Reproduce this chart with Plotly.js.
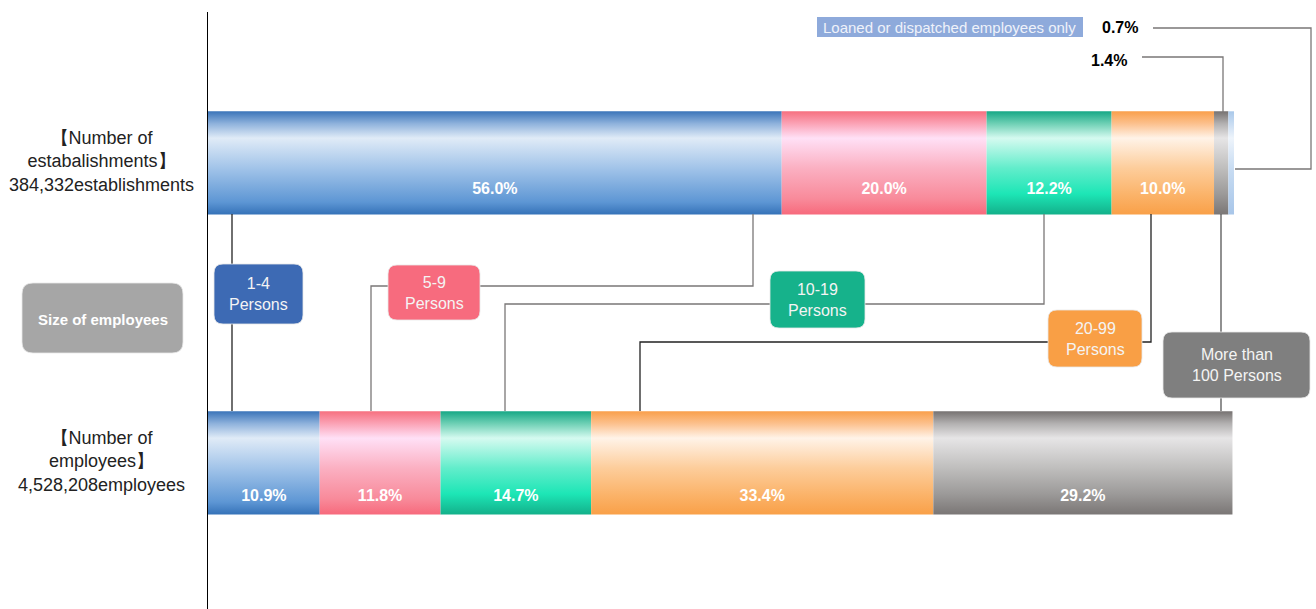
<!DOCTYPE html>
<html>
<head>
<meta charset="utf-8">
<script src="https://cdn.plot.ly/plotly-3.0.1.min.js"></script>
<style>html,body{margin:0;padding:0;background:#fff;}#chart{width:1316px;height:609px;}</style>
</head>
<body>
<div id="chart"></div>
<script>
// ---------- data ----------
const sizeCategories = ['1-4\nPersons', '5-9\nPersons', '10-19\nPersons', '20-99\nPersons', 'More than\n100 Persons'];
const loanedLabel = 'Loaned or dispatched employees only';
const establishmentShares = [56.0, 20.0, 12.2, 10.0, 1.4, 0.7];   // last = loaned/dispatched only
const employeeShares = [10.9, 11.8, 14.7, 33.4, 29.2];
const rowLabels = ['【Number of\nestabalishments】\n384,332establishments', '【Number of\nemployees】\n4,528,208employees'];
const legendTitle = 'Size of employees';

// ---------- styles ----------
const gradients = [
  [[0,'#3572b8'],[0.12,'#5d96d4'],[0.45,'#a2c4e9'],[0.74,'#e0ebf7'],[0.88,'#8fb2dc'],[1,'#3a74b9']],
  [[0,'#f76a7c'],[0.15,'#f88a9a'],[0.45,'#fbb0c2'],[0.74,'#ffe0f6'],[0.88,'#fba3b6'],[1,'#f6707f']],
  [[0,'#13b08a'],[0.2,'#1de6b6'],[0.45,'#62edcb'],[0.74,'#d5faf0'],[0.88,'#6fd0b5'],[1,'#17a886']],
  [[0,'#f9a048'],[0.2,'#fbb46b'],[0.45,'#fdcd9b'],[0.74,'#fff3e8'],[0.88,'#fcc18e'],[1,'#f99f4b']],
  [[0,'#7a7675'],[0.2,'#9c9a99'],[0.45,'#bfbebd'],[0.74,'#e6e5e6'],[0.88,'#b3b1b1'],[1,'#767271']],
  [[0,'#a8c6e9'],[0.45,'#c8dcf2'],[0.74,'#eef4fb'],[1,'#a9c8ea']]
];
const solid = ['#5d96d4','#f88a9a','#1de6b6','#fbb46b','#9c9a99','#c8dcf2'];
const boxColors = ['#3d6ab4','#f76b7e','#16b28b','#f99f45','#7f7f7f'];

const L = 208, R = 82, T = 12, B = 0, W = 1316, H = 609;
const PW = W - L - R, PH = H - T - B;
const XMAX = 100.15;
const rowY = [1, 0];           // top row: establishments, bottom row: employees
const HALF = 0.172;
const YR = [-0.487, 1.503];

const X = px => (px - L) / PW;
const Y = py => 1 - (py - T) / PH;

function segments(vals, yc, withLabels, labelY) {
  const tr = [];
  let acc = 0;
  const tx = [], ty = [], tt = [];
  vals.forEach((v, i) => {
    const x0 = acc, x1 = acc + v;
    tr.push({
      type: 'scatter', mode: 'lines', x: [x0, x1, x1, x0, x0],
      y: [yc - HALF, yc - HALF, yc + HALF, yc + HALF, yc - HALF],
      fill: 'toself', fillcolor: solid[i],
      fillgradient: {type: 'vertical', colorscale: gradients[i], start: yc - HALF, stop: yc + HALF},
      line: {width: 0, color: 'rgba(0,0,0,0)'}, hoverinfo: 'skip', showlegend: false
    });
    if (withLabels[i]) { tx.push((x0 + x1) / 2); ty.push(labelY); tt.push(v.toFixed(1) + '%'); }
    acc = x1;
  });
  tr.push({
    type: 'scatter', mode: 'text', x: tx, y: ty, text: tt,
    textfont: {family: 'Liberation Sans, Arial, sans-serif', size: 16, color: '#ffffff', weight: 'bold'},
    textposition: 'middle center', hoverinfo: 'skip', showlegend: false
  });
  return tr;
}

const traces = [
  ...segments(establishmentShares, rowY[0], [true, true, true, true, false, false], rowY[0] - 0.09),
  ...segments(employeeShares, rowY[1], [true, true, true, true, true], rowY[1] - 0.113)
];

// ---------- connectors (pixel positions, decorative) ----------
const grayLine = {color: '#7a7777', width: 1.3};
const blackLine = {color: '#222222', width: 1.3};
function pathPx(pts) {
  return pts.map((p, i) => (i ? 'L' : 'M') + X(p[0]) + ',' + Y(p[1])).join(' ');
}
const connectors = [
  {pts: [[232,214],[232,411]], line: blackLine},
  {pts: [[753,214],[753,286],[371,286],[371,411]], line: grayLine},
  {pts: [[1044,214],[1044,304],[505,304],[505,411]], line: grayLine},
  {pts: [[1151,214],[1151,342],[640,342],[640,411]], line: blackLine},
  {pts: [[1221,214],[1221,411]], line: {color: '#555555', width: 1.3}},
  {pts: [[1142,57],[1223,57],[1223,112]], line: grayLine},
  {pts: [[1153,28],[1311,28],[1311,169],[1235,169]], line: grayLine}
];
const shapes = connectors.map(c => ({type: 'path', xref: 'paper', yref: 'paper', path: pathPx(c.pts), line: c.line, fillcolor: 'rgba(0,0,0,0)'}));

function roundRect(x0, y0, x1, y1, r) {
  const p = (x, y) => X(x) + ',' + Y(y);
  return 'M' + p(x0 + r, y0) + ' L' + p(x1 - r, y0) + ' Q' + p(x1, y0) + ' ' + p(x1, y0 + r) +
    ' L' + p(x1, y1 - r) + ' Q' + p(x1, y1) + ' ' + p(x1 - r, y1) +
    ' L' + p(x0 + r, y1) + ' Q' + p(x0, y1) + ' ' + p(x0, y1 - r) +
    ' L' + p(x0, y0 + r) + ' Q' + p(x0, y0) + ' ' + p(x0 + r, y0) + ' Z';
}
const boxes = [
  [214,264,303,324], [388,265,480,320], [770,271,865,328], [1048,310,1142,367], [1163,332,1310,398]
];
const annotations = [];
const boxFont = {family: 'Liberation Sans, Arial, sans-serif', size: 16, color: '#f4f4f4'};
boxes.forEach((b, i) => {
  shapes.push({type: 'path', xref: 'paper', yref: 'paper', path: roundRect(b[0], b[1], b[2], b[3], 9),
    fillcolor: boxColors[i], line: {width: 0.8, color: '#e8e8e8'}});
  annotations.push({xref: 'paper', yref: 'paper', x: X((b[0] + b[2]) / 2), y: Y((b[1] + b[3]) / 2),
    xanchor: 'center', yanchor: 'middle', showarrow: false, align: 'center',
    text: sizeCategories[i].replace('\n', '<br>'), font: boxFont});
});
// size of employees box
shapes.push({type: 'path', xref: 'paper', yref: 'paper', path: roundRect(22, 283, 183, 353, 11),
  fillcolor: '#a6a6a6', line: {width: 0.8, color: '#e8e8e8'}});
annotations.push({xref: 'paper', yref: 'paper', x: X(102.5), y: Y(319), xanchor: 'center', yanchor: 'middle',
  showarrow: false, text: legendTitle,
  font: {family: 'Liberation Sans, Arial, sans-serif', size: 15, color: '#ffffff', weight: 'bold'}});
// loaned label
shapes.push({type: 'rect', xref: 'paper', yref: 'paper', x0: X(817), x1: X(1083), y0: Y(37), y1: Y(17),
  fillcolor: '#8eaadb', line: {width: 0}});
annotations.push({xref: 'paper', yref: 'paper', x: X(949), y: Y(27.5), xanchor: 'center', yanchor: 'middle',
  showarrow: false, text: loanedLabel, font: {family: 'Liberation Sans, Arial, sans-serif', size: 15, color: '#eef2fa'}});
// small share labels
const smallFont = {family: 'Liberation Sans, Arial, sans-serif', size: 16, color: '#000000', weight: 'bold'};
annotations.push({xref: 'paper', yref: 'paper', x: X(1120), y: Y(27.5), xanchor: 'center', yanchor: 'middle',
  showarrow: false, text: establishmentShares[5].toFixed(1) + '%', font: smallFont});
annotations.push({xref: 'paper', yref: 'paper', x: X(1108.5), y: Y(61), xanchor: 'center', yanchor: 'middle',
  showarrow: false, text: establishmentShares[4].toFixed(1) + '%', font: smallFont});
// row labels
rowLabels.forEach((t, i) => {
  annotations.push({xref: 'paper', yref: 'y', x: X(101), y: rowY[i] + 0.005, xanchor: 'center', yanchor: 'middle',
    showarrow: false, align: 'center', text: t.split('\n').join('<br>'),
    font: {family: 'Liberation Sans, Arial, sans-serif', size: 18, color: '#222222'}});
});

const layout = {
  width: W, height: H,
  margin: {l: L, r: R, t: T, b: B, pad: 0},
  paper_bgcolor: '#ffffff', plot_bgcolor: '#ffffff',
  showlegend: false,
  xaxis: {range: [0, XMAX], showgrid: false, zeroline: false, showticklabels: false, showline: false, fixedrange: true},
  yaxis: {range: YR, showgrid: false, zeroline: false, showticklabels: false, showline: true,
    linecolor: '#000000', linewidth: 1.5, fixedrange: true},
  shapes: shapes,
  annotations: annotations
};

Plotly.newPlot('chart', traces, layout, {displayModeBar: false, staticPlot: true});
</script>
</body>
</html>
